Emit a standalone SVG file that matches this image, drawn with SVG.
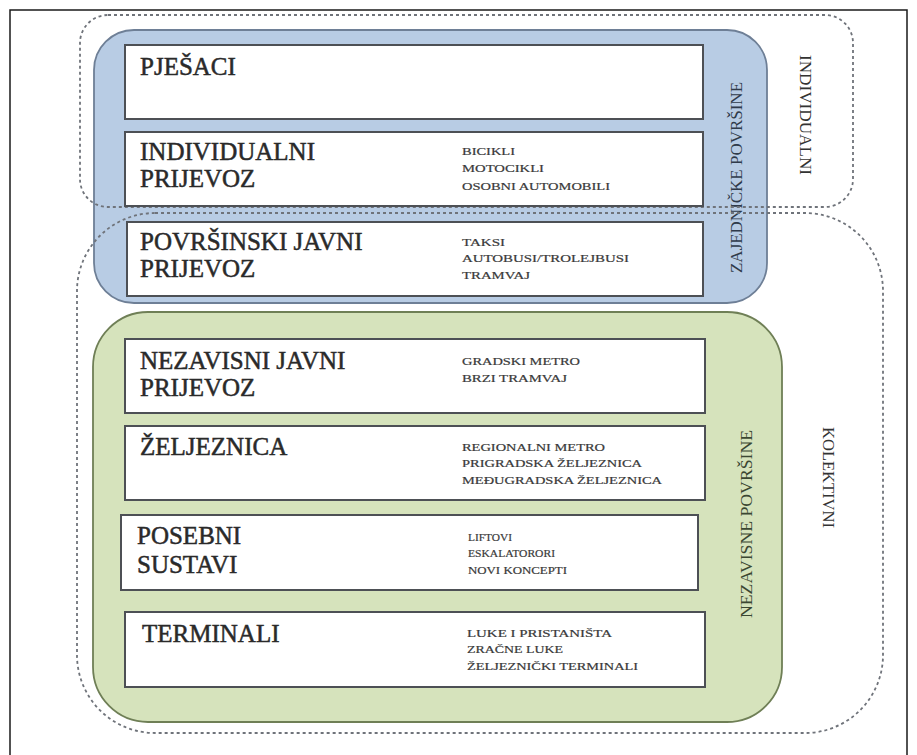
<svg xmlns="http://www.w3.org/2000/svg" width="917" height="755" viewBox="0 0 917 755">
<style>
.frame{fill:none;stroke:#1a1a1a;stroke-width:1.5}
.dash{fill:none;stroke:#6f737a;stroke-width:1.8;stroke-dasharray:3 3}
.blue{fill:#b8cce4;stroke:#6e7f96;stroke-width:1.8}
.green{fill:#d6e3bc;stroke:#6f7f56;stroke-width:1.8}
.box{fill:#ffffff;stroke:#4d5055;stroke-width:2}
.title{font-family:"Liberation Serif","Times New Roman",serif;font-size:25px;fill:#2a2a2a;stroke:#2a2a2a;stroke-width:0.5}
.small{font-family:"Liberation Serif","Times New Roman",serif;font-size:11px;fill:#3a3a3a;stroke:#3a3a3a;stroke-width:0.2}
.vert{font-family:"Liberation Serif","Times New Roman",serif;font-size:16px;fill:#333333;text-anchor:middle}
</style>
<rect width="917" height="755" fill="#ffffff"/>
<path class="frame" d="M10,760 V10 H907 V760"/>

<g id="zajednicke-povrsine">
<rect class="blue" x="94" y="30" width="673" height="273" rx="40"/>
<text class="vert" style="fill:#2f3a4a" transform="translate(742,177.5) rotate(-90)" textLength="191" lengthAdjust="spacingAndGlyphs">ZAJEDNIČKE POVRŠINE</text>
</g>

<g id="nezavisne-povrsine">
<rect class="green" x="93" y="312" width="689" height="410" rx="55"/>
<text class="vert" style="fill:#3b4732" transform="translate(752,524) rotate(-90)" textLength="188" lengthAdjust="spacingAndGlyphs">NEZAVISNE POVRŠINE</text>
</g>

<g id="individualni">
<rect class="dash" x="80" y="15" width="773" height="192" rx="28"/>
<text class="vert" transform="translate(800,115) rotate(90)" textLength="120" lengthAdjust="spacingAndGlyphs">INDIVIDUALNI</text>
</g>

<g id="kolektivni">
<rect class="dash" x="77" y="213" width="806" height="520" rx="78"/>
<text class="vert" transform="translate(823,477.5) rotate(90)" textLength="101" lengthAdjust="spacingAndGlyphs">KOLEKTIVNI</text>
</g>

<g id="pjesaci">
<rect class="box" x="125" y="45" width="578" height="74"/>
<text class="title" x="140" y="75">PJEŠACI</text>
</g>

<g id="individualni-prijevoz">
<rect class="box" x="125" y="132" width="578" height="74"/>
<text class="title" x="140" y="160">INDIVIDUALNI</text>
<text class="title" x="140" y="187">PRIJEVOZ</text>
<text class="small" x="462" y="155" textLength="53" lengthAdjust="spacingAndGlyphs">BICIKLI</text>
<text class="small" x="462" y="172" textLength="82" lengthAdjust="spacingAndGlyphs">MOTOCIKLI</text>
<text class="small" x="462" y="190" textLength="148" lengthAdjust="spacingAndGlyphs">OSOBNI AUTOMOBILI</text>
</g>

<g id="povrsinski-javni-prijevoz">
<rect class="box" x="127" y="222" width="576" height="74"/>
<text class="title" x="140" y="250">POVRŠINSKI JAVNI</text>
<text class="title" x="140" y="277">PRIJEVOZ</text>
<text class="small" x="462" y="246" textLength="43" lengthAdjust="spacingAndGlyphs">TAKSI</text>
<text class="small" x="462" y="262" textLength="167" lengthAdjust="spacingAndGlyphs">AUTOBUSI/TROLEJBUSI</text>
<text class="small" x="462" y="279" textLength="68" lengthAdjust="spacingAndGlyphs">TRAMVAJ</text>
</g>

<g id="nezavisni-javni-prijevoz">
<rect class="box" x="125" y="339" width="580" height="74"/>
<text class="title" x="140" y="369">NEZAVISNI JAVNI</text>
<text class="title" x="140" y="396">PRIJEVOZ</text>
<text class="small" x="462" y="365" textLength="118" lengthAdjust="spacingAndGlyphs">GRADSKI METRO</text>
<text class="small" x="462" y="382" textLength="105" lengthAdjust="spacingAndGlyphs">BRZI TRAMVAJ</text>
</g>

<g id="zeljeznica">
<rect class="box" x="125" y="426" width="580" height="74"/>
<text class="title" x="140" y="455">ŽELJEZNICA</text>
<text class="small" x="462" y="451" textLength="143" lengthAdjust="spacingAndGlyphs">REGIONALNI METRO</text>
<text class="small" x="462" y="467" textLength="180" lengthAdjust="spacingAndGlyphs">PRIGRADSKA ŽELJEZNICA</text>
<text class="small" x="462" y="484" textLength="200" lengthAdjust="spacingAndGlyphs">MEĐUGRADSKA ŽELJEZNICA</text>
</g>

<g id="posebni-sustavi">
<rect class="box" x="121" y="515" width="577" height="75"/>
<text class="title" x="137" y="544">POSEBNI</text>
<text class="title" x="137" y="573">SUSTAVI</text>
<text class="small" x="468" y="541" textLength="44" lengthAdjust="spacingAndGlyphs">LIFTOVI</text>
<text class="small" x="468" y="557" textLength="87" lengthAdjust="spacingAndGlyphs">ESKALATORORI</text>
<text class="small" x="468" y="574" textLength="99" lengthAdjust="spacingAndGlyphs">NOVI KONCEPTI</text>
</g>

<g id="terminali">
<rect class="box" x="125" y="612" width="580" height="75"/>
<text class="title" x="142" y="642">TERMINALI</text>
<text class="small" x="467" y="637" textLength="145" lengthAdjust="spacingAndGlyphs">LUKE  I PRISTANIŠTA</text>
<text class="small" x="467" y="653" textLength="96" lengthAdjust="spacingAndGlyphs">ZRAČNE LUKE</text>
<text class="small" x="467" y="670" textLength="171" lengthAdjust="spacingAndGlyphs">ŽELJEZNIČKI TERMINALI</text>
</g>
</svg>
